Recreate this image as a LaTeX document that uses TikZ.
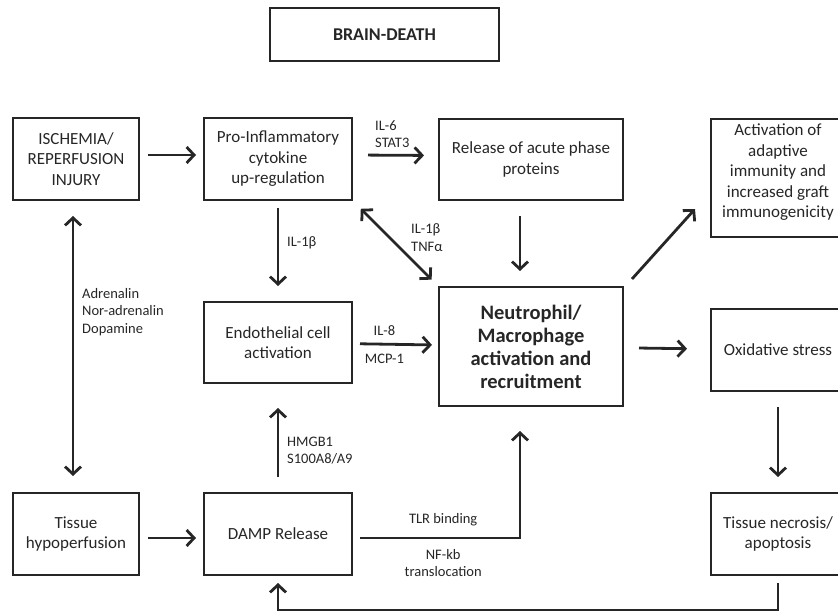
\documentclass[tikz,border=0pt]{standalone}
\usepackage{fontspec}
\setmainfont{Carlito}
\usetikzlibrary{arrows.meta}

\begin{document}
\begin{tikzpicture}[x=1pt,y=-1pt,
box/.style={draw=black!85,line width=2pt,align=center,inner sep=0pt,text=black!85,font=\fontsize{17}{20.5}\selectfont},
lbl/.style={align=left,inner sep=0pt,text=black!85,font=\fontsize{14.5}{17.5}\selectfont},
arr/.style={draw=black!85,line width=2.8pt,-{Straight Barb[length=7.5pt,width=16pt,line width=2.8pt]}},
dbl/.style={arr,{Straight Barb[length=7.5pt,width=16pt,line width=2.8pt]}-{Straight Barb[length=7.5pt,width=16pt,line width=2.8pt]}}]
\useasboundingbox (0,0) rectangle (838,612);

\node[box,minimum width=229,minimum height=53,font=\fontsize{18}{21}\selectfont\bfseries] (brain) at (384.5,34.5) {BRAIN-DEATH};

\node[box,minimum width=126,minimum height=82] (isch) at (76,159) {ISCHEMIA/\\REPERFUSION\\INJURY};
\node[box,minimum width=148,minimum height=82] (pro) at (278,159) {Pro-Inflammatory\\cytokine\\up-regulation};
\node[box,minimum width=184,minimum height=81] (rel) at (531,159.5) {Release of acute phase\\proteins};
\node[box,minimum width=134,minimum height=118,text depth=14pt] (adapt) at (778,178) {Activation of\\adaptive\\immunity and\\increased graft\\immunogenicity};

\node[box,minimum width=148,minimum height=81] (endo) at (278,342.5) {Endothelial cell\\activation};
\node[box,minimum width=184,minimum height=119,font=\fontsize{20.5}{23}\selectfont\bfseries] (neut) at (531,346.5) {Neutrophil/\\Macrophage\\activation and\\recruitment};
\node[box,minimum width=134,minimum height=82] (oxid) at (778,350) {Oxidative stress};

\node[box,minimum width=126,minimum height=82] (hypo) at (76,534) {Tissue\\hypoperfusion};
\node[box,minimum width=148,minimum height=82] (damp) at (278,534) {DAMP Release};
\node[box,minimum width=134,minimum height=82] (necr) at (778,534) {Tissue necrosis/\\apoptosis};

\coordinate (low) at (0,610);

\draw[arr,shorten <=8pt,shorten >=7pt] ([yshift=4pt]isch.east) -- ([yshift=4pt]pro.west);
\draw[arr,shorten <=15pt,shorten >=14pt] ([yshift=4pt]pro.east) -- ([yshift=4pt]rel.west);
\draw[arr,shorten <=7pt,shorten >=15pt] (pro) -- (endo);
\draw[dbl,shorten <=11pt,shorten >=9pt] (pro.south east) -- (neut.north west);
\draw[arr,shorten <=15pt,shorten >=15pt] ([xshift=-11pt]rel.south) -- ([xshift=-11pt]neut.north);
\draw[arr] ([shift={(8,-7)}]neut.north east) -- ([shift={(-15,-29)}]adapt.south west);
\draw[arr,shorten <=7pt,shorten >=6pt] (endo) -- (neut) node[lbl,above=7pt,pos=0.37] (il8) {IL-8} node[lbl,below=9pt,pos=0.37] (mcp) {MCP-1};
\draw[arr,shorten <=15pt,shorten >=23pt] (neut) -- (oxid);
\draw[arr,shorten <=15pt,shorten >=15pt] (oxid) -- (necr);
\draw[dbl,shorten <=15pt,shorten >=16pt] ([xshift=-3pt]isch.south) -- ([xshift=-3pt]hypo.north);
\draw[arr,shorten <=8pt,shorten >=7pt] ([yshift=-4pt]hypo.east) -- ([yshift=-4pt]damp.west);
\draw[arr,shorten <=15pt,shorten >=24pt] (damp) -- (endo);
\draw[arr,shorten <=7pt,shorten >=24pt] ([yshift=-4pt]damp.east) -| ([xshift=-11pt]neut.south) node[lbl,above=11pt,pos=0.27] (tlr) {TLR binding} node[lbl,below=10pt,pos=0.27,align=center] (nfkb) {NF-kb\\translocation};
\draw[arr,shorten <=7pt,shorten >=7pt] (necr.south) -- (necr.south |- low) -| (damp.south);

\node[lbl,anchor=west] (il6) at (375,134) {IL-6\\STAT3};
\node[lbl,anchor=west] (il1a) at (287,243) {IL-1β};
\node[lbl,anchor=west] (il1b) at (411,237.5) {IL-1β\\TNFα};
\node[lbl,anchor=west] (cat) at (82,312) {Adrenalin\\Nor-adrenalin\\Dopamine};
\node[lbl,anchor=west] (hmg) at (287,450.5) {HMGB1\\S100A8/A9};
\end{tikzpicture}
\end{document}
